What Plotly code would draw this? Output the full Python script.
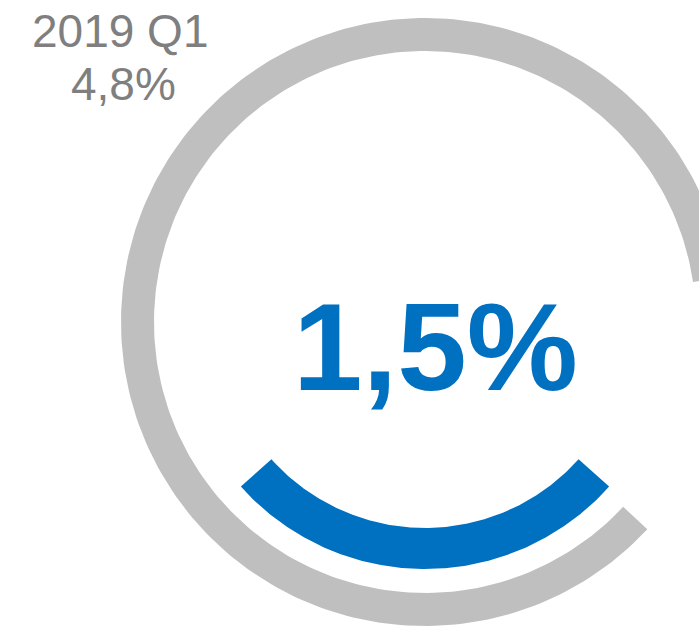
import numpy as np
import plotly.graph_objects as go

# ---- data ----
period_label = "2019 Q1"
reference_value = 4.8   # gray arc (full scale)
current_value = 1.5     # blue arc

# ---- geometry / style (pixels) ----
W, H = 699, 637
CX, CY = 425, 322
GRAY_R_OUT, GRAY_R_IN = 304, 271
BLUE_R_OUT, BLUE_R_IN = 247, 206
GRAY_START_DEG = 8.5
GRAY_SPAN_DEG = 308.5
BLUE_CENTER_DEG = 270.0
GRAY = "#BFBFBF"
BLUE = "#0070C0"
TEXT_GRAY = "#7F7F7F"


def fmt(v):
    return f"{v:.1f}".replace(".", ",") + "%"


def arc_polygon(a0, a1, r_in, r_out, n=240):
    t = np.radians(np.linspace(a0, a1, n))
    xo = CX + r_out * np.cos(t)
    yo = CY - r_out * np.sin(t)
    xi = CX + r_in * np.cos(t[::-1])
    yi = CY - r_in * np.sin(t[::-1])
    x = np.concatenate([xo, xi, xo[:1]])
    y = np.concatenate([yo, yi, yo[:1]])
    return x, y


deg_per_unit = GRAY_SPAN_DEG / reference_value
blue_span = current_value * deg_per_unit

gx, gy = arc_polygon(GRAY_START_DEG, GRAY_START_DEG + GRAY_SPAN_DEG, GRAY_R_IN, GRAY_R_OUT)
bx, by = arc_polygon(BLUE_CENTER_DEG - blue_span / 2, BLUE_CENTER_DEG + blue_span / 2,
                     BLUE_R_IN, BLUE_R_OUT)

fig = go.Figure()
fig.add_trace(go.Scatter(x=gx, y=gy, mode="lines", fill="toself", fillcolor=GRAY,
                         line=dict(width=0, color=GRAY), hoverinfo="skip"))
fig.add_trace(go.Scatter(x=bx, y=by, mode="lines", fill="toself", fillcolor=BLUE,
                         line=dict(width=0, color=BLUE), hoverinfo="skip"))

font_family = "Liberation Sans, Arial, sans-serif"
fig.add_annotation(x=435, y=346, xref="x", yref="y", text="<b>" + fmt(current_value) + "</b>",
                   showarrow=False, xanchor="center", yanchor="middle",
                   font=dict(family=font_family, size=125, color=BLUE))
fig.add_annotation(x=120, y=31, xref="x", yref="y", text=period_label,
                   showarrow=False, xanchor="center", yanchor="middle",
                   font=dict(family=font_family, size=46, color=TEXT_GRAY))
fig.add_annotation(x=123, y=84, xref="x", yref="y", text=fmt(reference_value),
                   showarrow=False, xanchor="center", yanchor="middle",
                   font=dict(family=font_family, size=46, color=TEXT_GRAY))

fig.update_layout(
    width=W, height=H,
    margin=dict(l=0, r=0, t=0, b=0),
    paper_bgcolor="white", plot_bgcolor="white",
    showlegend=False,
    xaxis=dict(range=[0, W], visible=False, fixedrange=True),
    yaxis=dict(range=[H, 0], visible=False, fixedrange=True),
)

fig.write_html("out.html", config={"displayModeBar": False},
               post_script="document.body.style.margin='0';document.body.style.overflow='hidden';")
